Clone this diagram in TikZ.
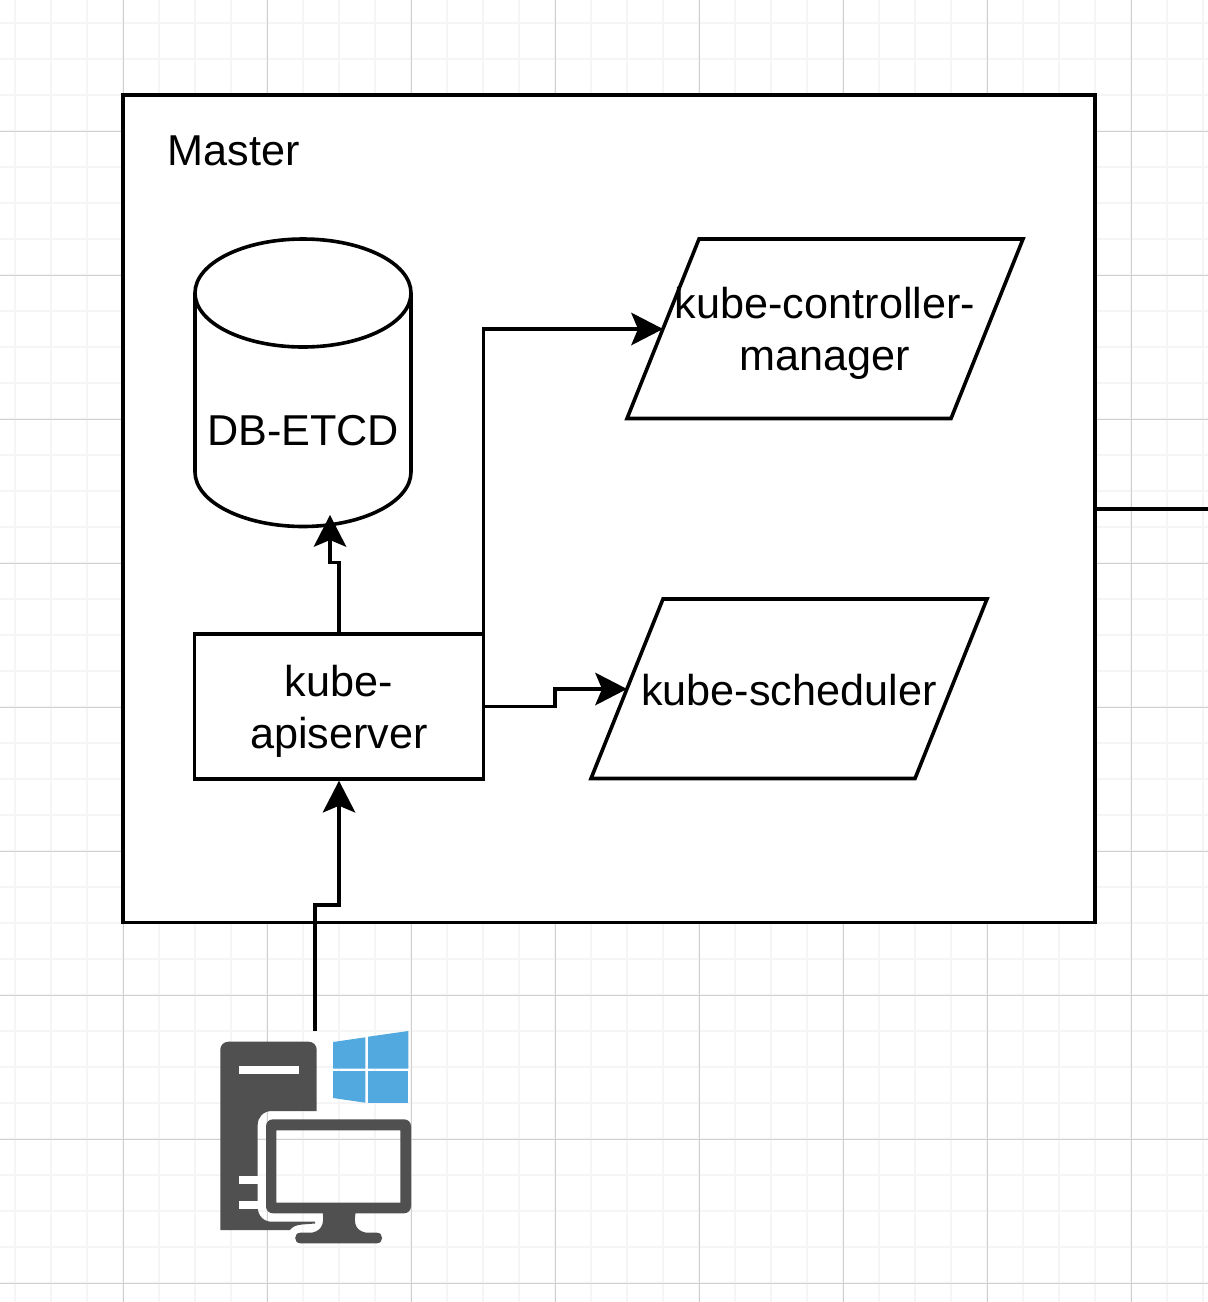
\documentclass[tikz,border=0pt]{standalone}
\usepackage{fontspec}
\setmainfont{Liberation Sans}
\usetikzlibrary{arrows.meta}
\definecolor{gridminor}{HTML}{F5F5F5}
\definecolor{gridmajor}{HTML}{D0D0D0}
\definecolor{iconGrey}{HTML}{505050}
\definecolor{winBlue}{HTML}{52A9E0}
\tikzset{
  x=1pt,y=-1pt,
  shapeline/.style={draw=black,line width=3.6pt,fill=white,line join=miter},
  lbl/.style={inner sep=0pt,align=center,font=\fontsize{43.2}{52}\selectfont,text=black},
  conn/.style={draw=black,line width=3.6pt,line join=miter,-{Stealth[length=32pt,width=33pt,inset=7pt,line width=0pt]}},
  plainconn/.style={draw=black,line width=3.6pt},
  iconpart/.style={fill=iconGrey,draw=none},
  iconhole/.style={fill=white,draw=none},
  winpane/.style={fill=winBlue,draw=none},
}
\begin{document}
\begin{tikzpicture}
\useasboundingbox (0,0) rectangle (1208,1302);
\fill[white] (0,0) rectangle (1208,1302);
% grid
\foreach \i in {0,...,33}{
  \draw[gridminor,line width=1.4pt] ({15+36*\i},0) -- ({15+36*\i},1302);
}
\foreach \i in {0,...,35}{
  \draw[gridminor,line width=1.4pt] (0,{23+36*\i}) -- (1208,{23+36*\i});
}
\foreach \i in {0,...,7}{
  \draw[gridmajor,line width=1pt] ({123.5+144*\i},0) -- ({123.5+144*\i},1302);
}
\foreach \i in {0,...,8}{
  \draw[gridmajor,line width=1pt] (0,{131+144*\i}) -- (1208,{131+144*\i});
}
% master
\node[shapeline,inner sep=0pt,outer sep=0pt,minimum width=972pt,minimum height=827.5pt] (master) at (609,508.75) {};
\node[lbl,anchor=base west] (masterlabel) at (167.5,165) {Master};
% cylinder
\path[shapeline] (195,293) -- (195,472)
  .. controls (195,501.8) and (243.4,526.5) .. (303,526.5)
  .. controls (362.6,526.5) and (411,501.8) .. (411,472)
  -- (411,293);
\path[shapeline] (195,293)
  .. controls (195,263.2) and (243.4,239) .. (303,239)
  .. controls (362.6,239) and (411,263.2) .. (411,293)
  .. controls (411,322.8) and (362.6,347) .. (303,347)
  .. controls (243.4,347) and (195,322.8) .. (195,293) -- cycle;
\node[lbl,anchor=base] (db) at (303,445) {DB-ETCD};
\coordinate (dbIn) at (330,515);
% controller
\path[shapeline] (699,239) -- (1023,239) -- (951,418.5) -- (627,418.5) -- cycle;
\node[lbl] (ctrl) at (825,333) {kube-controller-\\manager};
\coordinate (ctrlIn) at (663,329);
% scheduler
\path[shapeline] (663,599) -- (987,599) -- (915,778.5) -- (591,778.5) -- cycle;
\node[lbl,anchor=base] (sched) at (789,705) {kube-scheduler};
\coordinate (schedIn) at (627,689);
% apiserver
\node[shapeline,inner sep=0pt,outer sep=0pt,minimum width=289pt,minimum height=144.5pt] (api) at (339,706.5) {};
\node[lbl] (apilabel) at (339,711) {kube-\\apiserver};
% connectors
\draw[conn] (api.north) -- (api.north |- 0,562.5) -- (dbIn |- 0,562.5) -- (dbIn);
\draw[conn] (api.north east) -- (api.north east |- ctrlIn) -- (ctrlIn);
\draw[conn] (api.east) -- (555,706.5) -- (555,689) -- (schedIn);
\coordinate (clientTop) at (315,1031);
\draw[conn] (clientTop) -- (315,905) -- (api.south |- 0,905) -- ([yshift=-2pt]api.south);
\coordinate (masterOut) at (1208,508.75);
\draw[plainconn] (master.east) -- (masterOut);
% computer icon
\fill[iconpart] (220.3,1049.7) .. controls (220.3,1045) and (224,1041.7) .. (228.3,1041.7)
  -- (308.7,1041.7) .. controls (313,1041.7) and (316.7,1045) .. (316.7,1049.7)
  -- (316.7,1111) -- (271.7,1111)
  .. controls (263.5,1111) and (257.7,1117) .. (257.7,1125)
  -- (257.7,1207)
  .. controls (257.7,1215.5) and (263.5,1221.7) .. (271.7,1221.7)
  -- (315,1221.7) -- (315,1223.5) -- (302,1224.5)
  .. controls (296,1225) and (292,1227) .. (290,1230)
  -- (220.3,1230) -- cycle;
\fill[iconhole] (239,1066) rectangle (298.7,1074);
\fill[iconhole] (239,1175.7) rectangle (257.9,1184);
\fill[iconhole] (239,1200.7) rectangle (257.9,1209);
% monitor
\fill[iconpart,even odd rule] (273,1119.3) -- (404,1119.3)
  .. controls (408,1119.3) and (411,1122.3) .. (411,1126.3)
  -- (411,1206.3) .. controls (411,1210.3) and (408,1213.3) .. (404,1213.3)
  -- (273,1213.3) .. controls (269,1213.3) and (266,1210.3) .. (266,1206.3)
  -- (266,1126.3) .. controls (266,1122.3) and (269,1119.3) .. (273,1119.3) -- cycle
  (276.3,1130.3) rectangle (400.3,1202.7);
\fill[iconpart] (322.7,1212) .. controls (323.5,1220) and (324.5,1230) .. (312,1232.7)
  -- (300.3,1232.7) .. controls (293.5,1232.7) and (293.5,1243.3) .. (300.3,1243.3)
  -- (377,1243.3) .. controls (383.8,1243.3) and (383.8,1232.7) .. (377,1232.7)
  -- (366,1232.7) .. controls (353,1230) and (354.5,1220) .. (355.7,1212) -- cycle;
% windows logo
\fill[winpane] (333,1042) -- (365.3,1037.3) -- (365.3,1068.7) -- (333,1068.7) -- cycle;
\fill[winpane] (368,1036.7) -- (408.3,1031) -- (408.3,1068.7) -- (368,1068.7) -- cycle;
\fill[winpane] (333,1071) -- (365.3,1071) -- (365.3,1102.7) -- (333,1098) -- cycle;
\fill[winpane] (368,1071) -- (408.3,1071) -- (408.3,1103) -- (368,1103) -- cycle;
\end{tikzpicture}
\end{document}
